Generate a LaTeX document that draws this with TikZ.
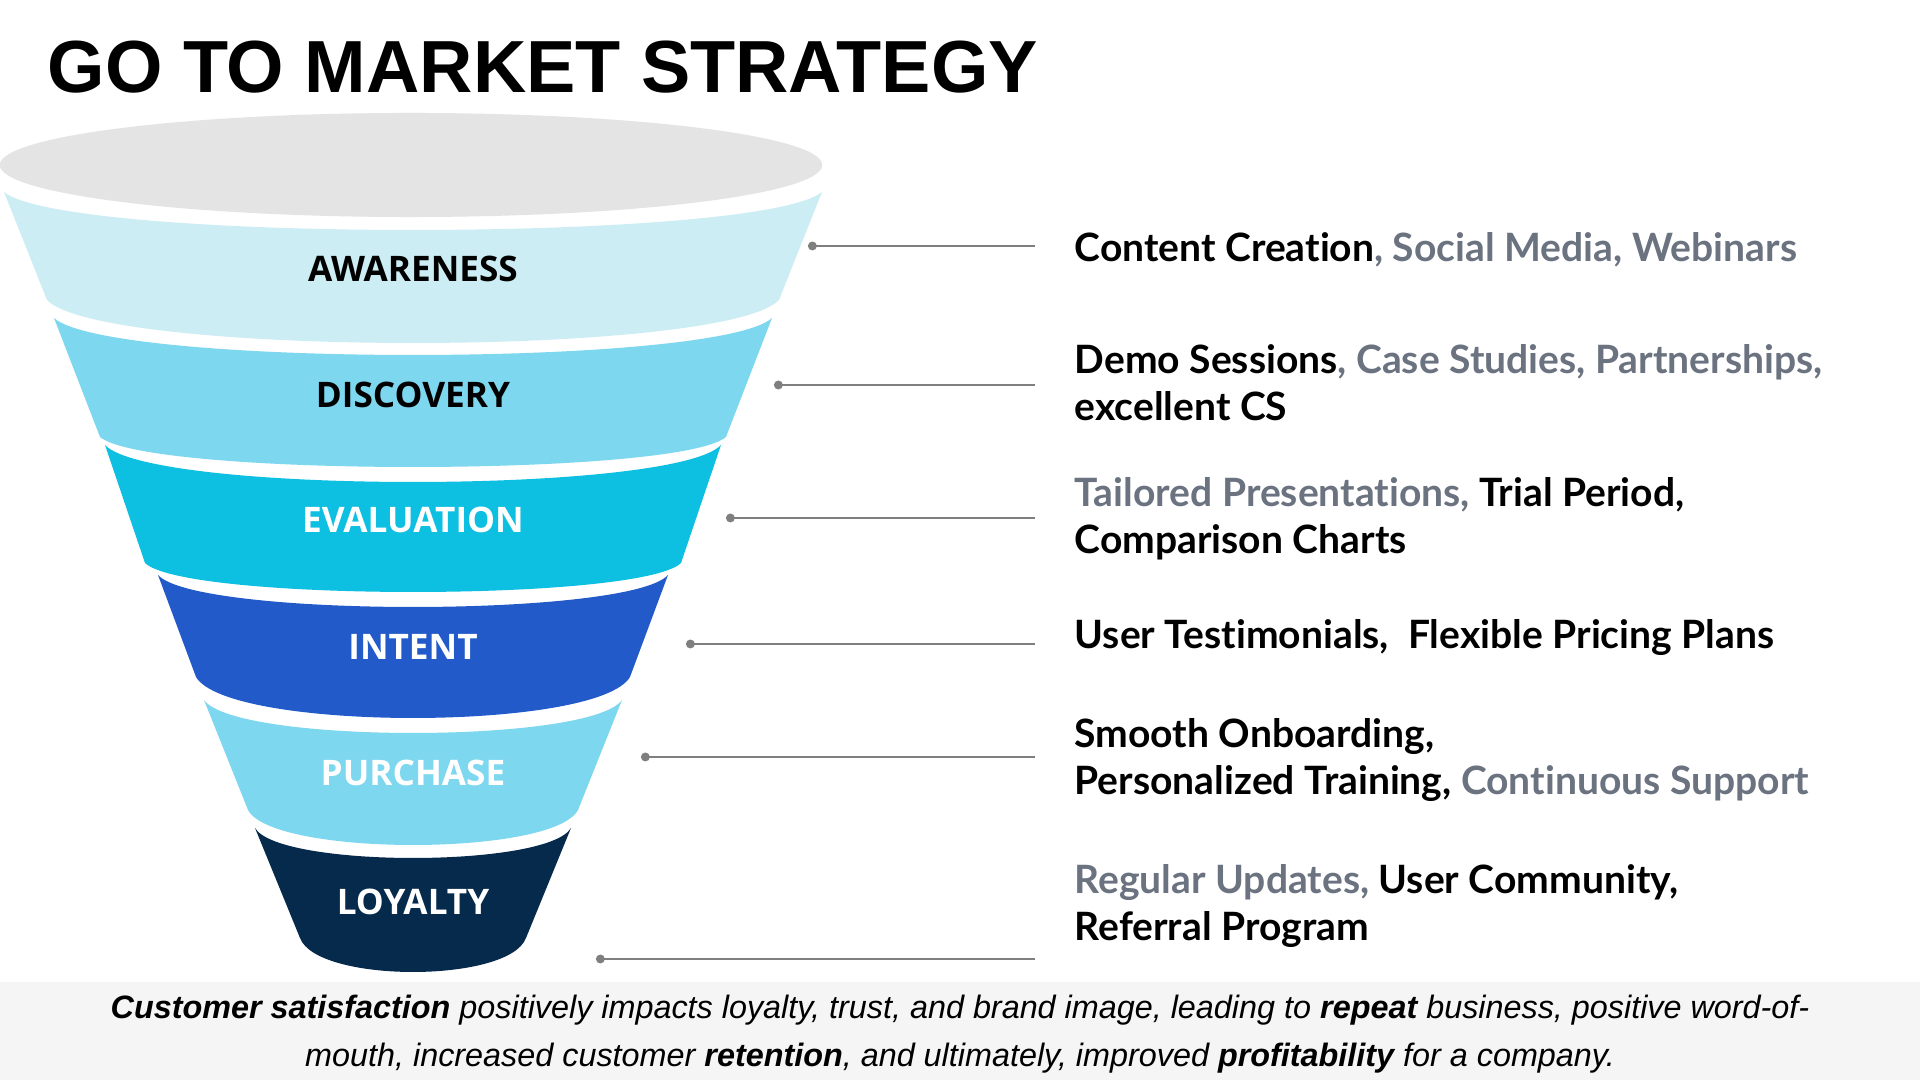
\documentclass[tikz,border=0pt]{standalone}
\usepackage{fontspec}
\usepackage{xcolor}
\usepackage{tikz}
\usetikzlibrary{arrows.meta}
\newfontfamily\titlefont{Liberation Sans}
\newfontfamily\stagefont{Open Sans}
\newfontfamily\itemfont[Ligatures=CommonOff]{Lato}
\newfontfamily\notefont{Liberation Sans}
\definecolor{rimGray}{HTML}{E4E4E4}
\definecolor{awaColor}{HTML}{CDEDF4}
\definecolor{disColor}{HTML}{7DD7EF}
\definecolor{evaColor}{HTML}{0DBFE0}
\definecolor{intColor}{HTML}{235AC9}
\definecolor{purColor}{HTML}{7DD7EF}
\definecolor{loyColor}{HTML}{062A4C}
\definecolor{softGray}{HTML}{6B7280}
\definecolor{leadGray}{HTML}{7F7F7F}
\definecolor{noteBack}{HTML}{F5F5F5}
% banda: color, y arriba, media anchura, curva, y abajo, media anchura, curva
\newcommand{\funnelband}[7]{%
	\fill[#1] (413-#3,#2) -- (413-#6,#5)
		.. controls (413-#6*0.85,#5+#7*1.333) and (413+#6*0.85,#5+#7*1.333) .. (413+#6,#5)
		-- (413+#3,#2)
		.. controls (413+#3*0.85,#2+#4*1.333) and (413-#3*0.85,#2+#4*1.333) .. cycle;}

\begin{document}
\begin{tikzpicture}[x=0.01cm, y=-0.01cm,
		stage/.style={font=\stagefont\bfseries\fontsize{10}{12}\selectfont, anchor=base, inner sep=0pt},
		item/.style={font=\itemfont\bfseries\fontsize{11.1}{13.6}\selectfont, anchor=base west, align=left, inner sep=0pt},
		leader/.style={draw=leadGray, line width=0.5pt, {Circle[length=2.5pt]}-}]
					\useasboundingbox (0,0) rectangle (1920,1080);
					\fill[white] (0,0) rectangle (1920,1080);
					
					% Titulo
					\node[font=\titlefont\bfseries\fontsize{21}{25}\selectfont, anchor=base west, inner sep=0pt] (title) at (47,93) {GO TO MARKET STRATEGY};
					
					% Embudo
					\fill[rimGray] (411,165) ellipse [x radius=4.11cm, y radius=0.52cm];
					\funnelband{awaColor}{192}{409}{38}{300}{366}{43}
					\funnelband{disColor}{318}{359}{37}{437}{313}{30}
					\funnelband{evaColor}{445}{308}{37}{563}{268}{29}
					\funnelband{intColor}{575}{255}{32}{677}{217}{41}
					\funnelband{purColor}{700}{209}{33}{810}{165}{35}
					\funnelband{loyColor}{828}{158}{30}{938}{113}{34}
					
					% Etapas
					\node[stage, text=black] (awa) at (413,282) {AWARENESS};
					\node[stage, text=black] (dis) at (413,408) {DISCOVERY};
					\node[stage, text=white] (eva) at (413,533) {EVALUATION};
					\node[stage, text=white] (int) at (413,660) {INTENT};
					\node[stage, text=white] (pur) at (413,786) {PURCHASE};
					\node[stage, text=white] (loy) at (413,915) {LOYALTY};
					
					% Acciones (base = ultima linea)
					\node[item] (t1) at (1074,262) {Content Creation\textcolor{softGray}{, Social Media, Webinars}};
					\node[item] (t2) at (1074,421) {Demo Sessions\textcolor{softGray}{, Case Studies, Partnerships,}\\excellent CS};
					\node[item] (t3) at (1074,554) {\textcolor{softGray}{Tailored Presentations,} Trial Period,\\Comparison Charts};
					\node[item] (t4) at (1074,649) {User Testimonials,\ \ Flexible Pricing Plans};
					\node[item] (t5) at (1074,795) {Smooth Onboarding,\\Personalized Training, \textcolor{softGray}{Continuous Support}};
					\node[item] (t6) at (1074,941) {\textcolor{softGray}{Regular Updates,} User Community,\\Referral Program};
					
					% Conexiones
					\coordinate (rail) at (1035,0);
					\coordinate (d1) at (808,246);
					\coordinate (d2) at (774,385);
					\coordinate (d3) at (726,518);
					\coordinate (d4) at (686,644);
					\coordinate (d5) at (641,757);
					\coordinate (d6) at (596,959);
					\foreach \d in {d1,d2,d3,d4,d5,d6}
						\draw[leader] (\d) -- (\d -| rail);
					
					% Nota
					\fill[noteBack] (0,982) rectangle (1920,1080);
					\node[font=\notefont\itshape\fontsize{9.2}{13.9}\selectfont, anchor=base, align=center, inner sep=0pt] (note) at (960,1067) {\textbf{Customer satisfaction} positively impacts loyalty, trust, and brand image, leading to \textbf{repeat} business, positive word-of-\\mouth, increased customer \textbf{retention}, and ultimately, improved \textbf{profitability} for a company.};
				\end{tikzpicture}
\end{document}
